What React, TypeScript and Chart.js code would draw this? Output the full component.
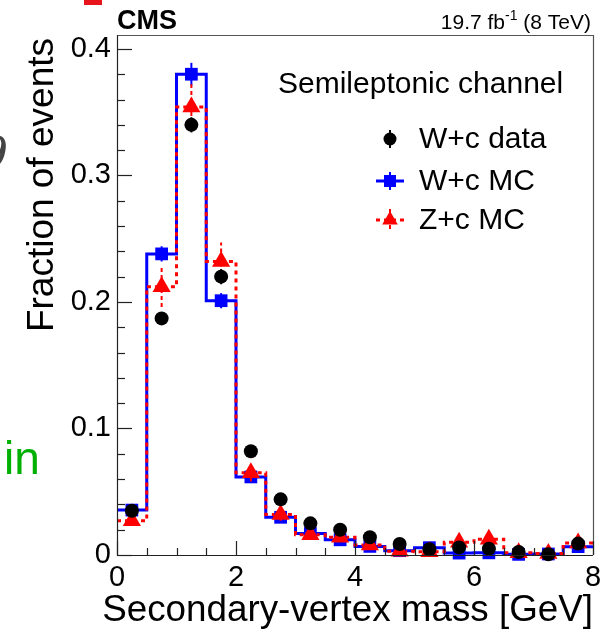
import React, { useEffect, useRef } from "react";
import { Chart, registerables } from "chart.js";

Chart.register(...registerables);

// ---------- data ----------
const binEdges = [0, 0.5, 1, 1.5, 2, 2.5, 3, 3.5, 4, 4.5, 5, 5.5, 6, 6.5, 7, 7.5, 8];
const wcData = [0.035, 0.187, 0.34, 0.22, 0.082, 0.044, 0.025, 0.02, 0.014, 0.0087, 0.0045, 0.006, 0.005, 0.0024, 0.0006, 0.009];
const wcDataErr = [0.003, 0.005, 0.006, 0.006, 0.004, 0.003, 0.002, 0.002, 0.002, 0.002, 0.002, 0.002, 0.002, 0.002, 0.001, 0.002];
const wcMC = [0.0355, 0.238, 0.38, 0.201, 0.0617, 0.0298, 0.017, 0.012, 0.0068, 0.0034, 0.0058, 0.0015, 0.0017, 0.0005, 0.0008, 0.0066];
const wcMCErr = [0.002, 0.006, 0.009, 0.006, 0.003, 0.002, 0.002, 0.001, 0.001, 0.001, 0.001, 0.001, 0.001, 0.001, 0.001, 0.001];
const zcMC = [0.027, 0.212, 0.354, 0.232, 0.065, 0.032, 0.016, 0.014, 0.008, 0.003, 0.0025, 0.01, 0.0125, 0.0018, 0.0012, 0.0095];
const zcMCErr = [0.004, 0.016, 0.018, 0.015, 0.007, 0.005, 0.004, 0.003, 0.002, 0.002, 0.002, 0.003, 0.003, 0.002, 0.002, 0.003];

const xTickValues = [0, 2, 4, 6, 8];
const xTickLabels = ["0", "2", "4", "6", "8"];
const yTickValues = [0, 0.1, 0.2, 0.3, 0.4];
const yTickLabels = ["0", "0.1", "0.2", "0.3", "0.4"];
const seriesNames = ["W+c data", "W+c MC", "Z+c MC"];
const channelLabel = "Semileptonic channel";
const xTitle = "Secondary-vertex mass [GeV]";
const yTitle = "Fraction of events";
const cmsLabel = "CMS";
const lumiLabel = ["19.7 fb", "-1", " (8 TeV)"];

const X_MIN = 0, X_MAX = 8, Y_MIN = 0, Y_MAX = 0.411;
const X_MINOR = 0.5, Y_MINOR = 0.02;

const FONT = '"Liberation Sans", Arial, Helvetica, sans-serif';
const BLUE = "#0000ff";
const RED = "#ff0000";

function centers() {
  const c: number[] = [];
  for (let i = 0; i < binEdges.length - 1; i++) c.push((binEdges[i] + binEdges[i + 1]) / 2);
  return c;
}
function stepPoints(vals: number[]) {
  const pts: { x: number; y: number }[] = [];
  vals.forEach((v, i) => {
    pts.push({ x: binEdges[i], y: v });
    pts.push({ x: binEdges[i + 1], y: v });
  });
  return pts;
}
function markerPoints(vals: number[]) {
  const c = centers();
  return vals.map((v, i) => ({ x: c[i], y: v }));
}

function drawTriangle(ctx: CanvasRenderingContext2D, x: number, y: number, r: number) {
  ctx.beginPath();
  ctx.moveTo(x, y - r);
  ctx.lineTo(x + r * 0.866, y + r * 0.5);
  ctx.lineTo(x - r * 0.866, y + r * 0.5);
  ctx.closePath();
  ctx.fill();
}

const decor = {
  id: "decor",
  beforeDatasetDraw(chart: any, args: any) {
    const ds = chart.data.datasets[args.index];
    if (!ds.errors) return;
    const ctx = chart.ctx;
    const xs = chart.scales.x, ys = chart.scales.y;
    ctx.save();
    ctx.strokeStyle = ds.errColor;
    ctx.lineWidth = 2;
    ctx.setLineDash(ds.errDash || []);
    ds.data.forEach((p: any, i: number) => {
      const e = ds.errors[i];
      const px = xs.getPixelForValue(p.x);
      ctx.beginPath();
      ctx.moveTo(px, ys.getPixelForValue(p.y - e));
      ctx.lineTo(px, ys.getPixelForValue(p.y + e));
      ctx.stroke();
    });
    ctx.restore();
  },
  afterDatasetsDraw(chart: any) {
    const ctx: CanvasRenderingContext2D = chart.ctx;
    const { left, right, top, bottom } = chart.chartArea;
    const xs = chart.scales.x, ys = chart.scales.y;
    ctx.save();
    // frame
    ctx.lineWidth = 1.2;
    ctx.strokeStyle = "#555";
    ctx.beginPath();
    ctx.moveTo(left, top + 0.5);
    ctx.lineTo(right + 0.5, top + 0.5);
    ctx.lineTo(right + 0.5, bottom);
    ctx.stroke();
    ctx.strokeStyle = "#222";
    ctx.beginPath();
    ctx.moveTo(left + 0.5, top);
    ctx.lineTo(left + 0.5, bottom + 0.5);
    ctx.lineTo(right, bottom + 0.5);
    ctx.stroke();
    // inward ticks
    ctx.lineWidth = 1.2;
    for (let v = Y_MIN; v <= Y_MAX + 1e-9; v += Y_MINOR) {
      const major = Math.abs(v * 10 - Math.round(v * 10)) < 1e-6;
      const py = Math.round(ys.getPixelForValue(v)) + 0.5;
      ctx.beginPath();
      ctx.moveTo(left, py);
      ctx.lineTo(left + (major ? 15 : 8), py);
      ctx.stroke();
    }
    for (let v = X_MIN; v <= X_MAX + 1e-9; v += X_MINOR) {
      const major = Math.abs(v / 2 - Math.round(v / 2)) < 1e-6;
      const px = Math.round(xs.getPixelForValue(v)) + 0.5;
      ctx.beginPath();
      ctx.moveTo(px, bottom);
      ctx.lineTo(px, bottom - (major ? 14 : 7));
      ctx.stroke();
    }
    // axis titles
    ctx.fillStyle = "#000";
    ctx.font = `36.8px ${FONT}`;
    ctx.textAlign = "right";
    ctx.textBaseline = "alphabetic";
    ctx.fillText(xTitle, right, 621);
    ctx.save();
    ctx.translate(53, top + 3);
    ctx.rotate(-Math.PI / 2);
    ctx.textAlign = "right";
    ctx.font = `37px ${FONT}`;
    ctx.fillText(yTitle, 0, 0);
    ctx.restore();
    // CMS + lumi
    ctx.textAlign = "left";
    ctx.font = `bold 27px ${FONT}`;
    ctx.fillText(cmsLabel, left, 29);
    ctx.font = `21px ${FONT}`;
    const w0 = ctx.measureText(lumiLabel[0]).width;
    const w2 = ctx.measureText(lumiLabel[2]).width;
    ctx.font = `14px ${FONT}`;
    const w1 = ctx.measureText(lumiLabel[1]).width;
    let x0 = right - 2 - (w0 + w1 + w2);
    ctx.font = `21px ${FONT}`;
    ctx.fillText(lumiLabel[0], x0, 29);
    ctx.font = `14px ${FONT}`;
    ctx.fillText(lumiLabel[1], x0 + w0, 20);
    ctx.font = `21px ${FONT}`;
    ctx.fillText(lumiLabel[2], x0 + w0 + w1, 29);
    // legend
    ctx.font = `30px ${FONT}`;
    ctx.fillText(channelLabel, 278, 93);
    const lx = 390;
    const rows = [139, 181, 220];
    ctx.textBaseline = "middle";
    seriesNames.forEach((name, i) => {
      ctx.fillStyle = "#000";
      ctx.fillText(name, 419, rows[i] + 1);
    });
    // legend markers
    ctx.strokeStyle = "#000";
    ctx.lineWidth = 2;
    ctx.beginPath();
    ctx.moveTo(lx, rows[0] - 9);
    ctx.lineTo(lx, rows[0] + 9);
    ctx.stroke();
    ctx.fillStyle = "#000";
    ctx.beginPath();
    ctx.arc(lx, rows[0], 6.5, 0, Math.PI * 2);
    ctx.fill();
    // W+c MC
    ctx.strokeStyle = BLUE;
    ctx.lineWidth = 3;
    ctx.beginPath();
    ctx.moveTo(lx - 14, rows[1]);
    ctx.lineTo(lx + 14, rows[1]);
    ctx.stroke();
    ctx.lineWidth = 2;
    ctx.beginPath();
    ctx.moveTo(lx, rows[1] - 9);
    ctx.lineTo(lx, rows[1] + 9);
    ctx.stroke();
    ctx.fillStyle = BLUE;
    ctx.fillRect(lx - 6, rows[1] - 6, 12, 12);
    // Z+c MC
    ctx.strokeStyle = RED;
    ctx.lineWidth = 3;
    ctx.setLineDash([4, 4]);
    ctx.beginPath();
    ctx.moveTo(lx - 14, rows[2]);
    ctx.lineTo(lx + 14, rows[2]);
    ctx.stroke();
    ctx.lineWidth = 2;
    ctx.beginPath();
    ctx.moveTo(lx, rows[2] - 11);
    ctx.lineTo(lx, rows[2] + 9);
    ctx.stroke();
    ctx.setLineDash([]);
    ctx.fillStyle = RED;
    drawTriangle(ctx, lx, rows[2], 9);
    ctx.restore();
  },
};

export default function App() {
  const ref = useRef<HTMLCanvasElement | null>(null);
  useEffect(() => {
    if (!ref.current) return;
    const chart = new Chart(ref.current, {
      type: "scatter",
      data: {
        datasets: [
          {
            label: seriesNames[0],
            data: markerPoints(wcData),
            pointStyle: "circle",
            pointRadius: 7,
            pointBackgroundColor: "#000",
            pointBorderWidth: 0,
            borderWidth: 0,
            clip: false,
            order: 1,
            errors: wcDataErr,
            errColor: "#000",
          } as any,
          {
            label: seriesNames[2] + " markers",
            data: markerPoints(zcMC),
            pointStyle: "triangle",
            pointRadius: 10.5,
            pointBackgroundColor: RED,
            pointBorderWidth: 0,
            borderWidth: 0,
            clip: false,
            order: 2,
            errors: zcMCErr,
            errColor: RED,
            errDash: [4, 3],
          } as any,
          {
            label: seriesNames[1] + " markers",
            data: markerPoints(wcMC),
            pointStyle: "rect",
            pointRadius: 9,
            pointBackgroundColor: BLUE,
            pointBorderWidth: 0,
            borderWidth: 0,
            clip: false,
            order: 3,
            errors: wcMCErr,
            errColor: BLUE,
          } as any,
          {
            label: seriesNames[2],
            data: stepPoints(zcMC),
            showLine: true,
            pointRadius: 0,
            borderColor: RED,
            borderWidth: 3,
            borderDash: [4, 4],
            tension: 0,
            order: 4,
          } as any,
          {
            label: seriesNames[1],
            data: stepPoints(wcMC),
            showLine: true,
            pointRadius: 0,
            borderColor: BLUE,
            borderWidth: 3,
            tension: 0,
            order: 5,
          } as any,
        ],
      },
      options: {
        animation: false,
        responsive: true,
        maintainAspectRatio: false,
        layout: { padding: { top: 35, right: 18, left: 0, bottom: 0 } },
        plugins: { legend: { display: false }, tooltip: { enabled: false } },
        events: [],
        scales: {
          x: {
            type: "linear",
            min: X_MIN,
            max: X_MAX,
            grid: { display: false, drawTicks: false },
            border: { display: false },
            afterFit: (s: any) => {
              s.height = 77;
            },
            afterBuildTicks: (s: any) => {
              s.ticks = xTickValues.map((v) => ({ value: v }));
            },
            ticks: {
              autoSkip: false,
              maxRotation: 0,
              padding: 6,
              color: "#000",
              font: { family: FONT, size: 29 },
              callback: (v: any) => {
                const i = xTickValues.indexOf(Number(v));
                return i >= 0 ? xTickLabels[i] : "";
              },
            },
          },
          y: {
            type: "linear",
            min: Y_MIN,
            max: Y_MAX,
            grid: { display: false, drawTicks: false },
            border: { display: false },
            afterFit: (s: any) => {
              s.width = 117;
            },
            afterBuildTicks: (s: any) => {
              s.ticks = yTickValues.map((v) => ({ value: v }));
            },
            ticks: {
              autoSkip: false,
              padding: 6,
              color: "#000",
              font: { family: FONT, size: 29 },
              callback: (v: any) => {
                const i = yTickValues.findIndex((t) => Math.abs(t - Number(v)) < 1e-9);
                return i >= 0 ? yTickLabels[i] : "";
              },
            },
          },
        },
      } as any,
      plugins: [decor],
    });
    return () => chart.destroy();
  }, []);

  return (
    <div style={{ position: "fixed", left: 0, top: 0, width: 611, height: 632, background: "#fff", overflow: "hidden" }}>
      <div style={{ position: "absolute", left: 0, top: 0, width: 611, height: 632 }}>
        <canvas ref={ref} />
      </div>
      <div style={{ position: "absolute", left: 84, top: 0, width: 18, height: 5, background: "#e8141c" }} />
      <span
        style={{
          position: "absolute",
          left: -20,
          top: 126,
          fontFamily: '"DejaVu Serif", serif',
          fontStyle: "italic",
          fontSize: 44,
          lineHeight: "56px",
          color: "#444",
        }}
      >
        9
      </span>
      <span
        style={{
          position: "absolute",
          left: 4,
          top: 428,
          fontFamily: FONT,
          fontSize: 46,
          lineHeight: "60px",
          color: "#00b000",
        }}
      >
        in
      </span>
    </div>
  );
}
